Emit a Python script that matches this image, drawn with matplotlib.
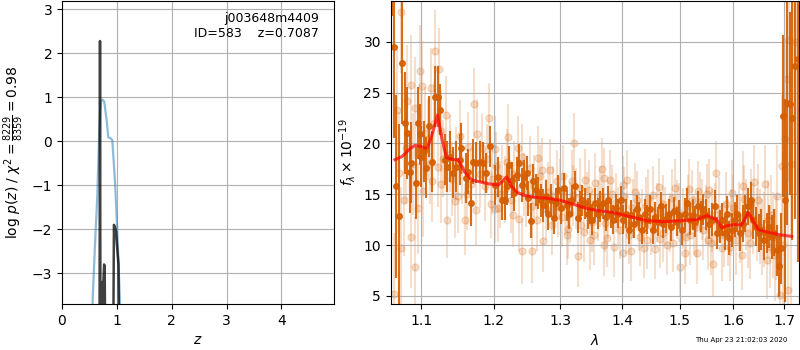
import matplotlib
matplotlib.use("Agg")
import matplotlib.pyplot as plt
from matplotlib.ticker import NullLocator, NullFormatter

# -------------------------------
# p(z) panel
# -------------------------------
z_chi2 = [0.54, 0.559, 0.60, 0.643, 0.68, 0.705, 0.735, 0.771, 0.814, 0.844,
          0.886, 0.917, 0.965, 1.008, 1.056, 1.07]
logp_chi2 = [-4.5, -3.6, -2.4, -1.26, 0.26, 0.9, 0.95, 0.9, 0.48, 0.09,
             0.07, 0.03, -0.88, -2.02, -3.6, -4.5]

z_pz = [0.680, 0.693, 0.703, 0.712, 0.722, 0.732, 0.742, 0.752, 0.768, 0.778,
        0.790, 0.800, 0.920, 0.947, 0.965, 0.984, 1.005, 1.030, 1.060]
logp_pz = [-8, 2.28, -6, -3.25, -5, -3.2, -5, -3.3, -2.8, -2.85,
           -5, -8, -8, -1.9, -1.95, -2.05, -2.4, -2.8, -8]

label_root = "j003648m4409"
label_id = "ID=583    z=0.7087"
timestamp = "Thu Apr 23 21:02:03 2020"

# -------------------------------
# spectrum panel: binned (dark) points
# -------------------------------
wave_bin = [1.0625, 1.0650, 1.0679, 1.0714, 1.0752, 1.0787, 1.0821, 1.0852, 1.0873, 1.0938,
            1.0960, 1.0983, 1.1004, 1.1040, 1.1070, 1.1106, 1.1146, 1.1182, 1.1227, 1.1250,
            1.1317, 1.1353, 1.1385, 1.1430, 1.1476, 1.1522, 1.1545, 1.1614, 1.1638, 1.1675,
            1.1708, 1.1754, 1.1802, 1.1849, 1.1896, 1.1945, 1.2017,
            1.2068, 1.2117, 1.2166, 1.2191, 1.2224, 1.2264, 1.2302, 1.2338, 1.2372, 1.2412,
            1.2451, 1.2487, 1.2511, 1.2551, 1.2586, 1.2622, 1.2662, 1.2703, 1.2738, 1.2775,
            1.2815, 1.2856, 1.2898, 1.2929, 1.2969, 1.3011, 1.3063, 1.3100, 1.3137, 1.3180,
            1.3232, 1.3275, 1.3311, 1.3348, 1.3392, 1.3435, 1.3472, 1.3509, 1.3553, 1.3597,
            1.3640,
            1.3688, 1.3732, 1.3770, 1.3810, 1.3854, 1.3898, 1.3936, 1.3976, 1.4020, 1.4066,
            1.4111, 1.4155, 1.4201, 1.4247, 1.4292, 1.4338, 1.4385, 1.4430, 1.4476, 1.4523,
            1.4568, 1.4616, 1.4663, 1.4709, 1.4757, 1.4805, 1.4851, 1.4899, 1.4947, 1.4994,
            1.5043, 1.5092, 1.5139, 1.5188, 1.5237, 1.5285, 1.5334, 1.5384, 1.5432, 1.5482,
            1.5532,
            1.5593, 1.5644, 1.5693, 1.5744, 1.5782, 1.5833, 1.5871, 1.5921, 1.5972, 1.6024,
            1.6074, 1.6126, 1.6179, 1.6229, 1.6282, 1.6335, 1.6386, 1.6439, 1.6492, 1.6544,
            1.6597, 1.6651, 1.6703, 1.6751, 1.6797, 1.6852, 1.6898, 1.6939, 1.6986, 1.7027,
            1.7068, 1.7123, 1.7170, 1.7226, 1.7282]
flux_bin = [42.0, 29.5, 15.8, 12.9, 27.9, 22.0, 21.0, 17.2, 18.1, 16.1,
            22.0, 20.9, 18.7, 19.2, 17.6, 21.7, 18.2, 24.6, 24.6, 23.3,
            18.4, 17.7, 18.7, 17.1, 17.7, 18.4, 19.5, 16.6, 17.2, 14.1,
            18.2, 18.1, 18.2, 18.1, 17.1, 19.7, 15.9,
            16.7, 14.4, 14.4, 15.8, 17.9, 16.4, 15.1, 16.9, 18.1, 15.9,
            16.7, 17.1, 14.6, 12.4, 16.3, 15.4, 15.1, 14.4, 13.9, 14.8,
            13.1, 14.4, 12.7, 14.1, 15.4, 13.6, 15.6, 13.9, 13.1, 14.4,
            15.8, 12.7, 13.8, 14.4, 14.1, 13.1, 13.6, 12.5, 14.1, 13.1,
            13.8,
            14.1, 12.8, 14.4, 13.1, 12.5, 13.6, 13.1, 14.4, 12.5, 13.1,
            11.5, 13.0, 12.1, 13.5, 12.8, 11.5, 13.1, 12.5, 13.5, 11.5,
            12.8, 12.3, 13.8, 12.1, 12.6, 13.1, 11.8, 13.3, 12.3, 13.0,
            11.5, 13.1, 14.1, 12.5, 13.0, 12.3, 13.8, 12.8, 13.5, 13.0,
            12.1,
            12.5, 13.8, 11.2, 11.8, 12.5, 11.2, 13.1, 10.7, 11.5, 12.5,
            13.1, 11.2, 12.1, 13.1, 13.8, 14.4, 12.5, 11.8, 11.2, 11.5,
            10.5, 11.2, 11.8, 10.8, 11.2, 9.5, 7.9, 9.7, 22.7, 14.4,
            24.0, 23.9, 22.5, 27.6, 28.3]
err_bin = [9.5, 9.0, 9.0, 9.0, 6.0, 5.0, 4.5, 4.0, 4.0, 3.5,
           3.5, 3.0, 3.0, 3.0, 3.0, 3.0, 3.0, 3.0, 3.0, 2.5,
           2.5, 2.5, 2.5, 2.5, 2.5, 2.5, 2.5, 2.5, 2.2, 2.2,
           2.2, 2.0, 2.0, 2.0, 2.0, 2.0, 2.0,
           2.0, 1.9, 1.9, 1.9, 1.8, 1.8, 1.8, 1.8, 1.8, 1.7,
           1.7, 1.7, 1.7, 1.7, 1.7, 1.6, 1.6, 1.6, 1.6, 1.6,
           1.6, 1.6, 1.6, 1.5, 1.5, 1.5, 1.5, 1.5, 1.5, 1.5,
           1.5, 1.5, 1.5, 1.5, 1.5, 1.5, 1.5, 1.5, 1.5, 1.5,
           1.5,
           1.5, 1.4, 1.4, 1.4, 1.4, 1.4, 1.4, 1.4, 1.4, 1.4,
           1.4, 1.4, 1.4, 1.4, 1.4, 1.4, 1.4, 1.4, 1.4, 1.4,
           1.4, 1.4, 1.4, 1.4, 1.4, 1.4, 1.4, 1.4, 1.4, 1.4,
           1.5, 1.5, 1.5, 1.5, 1.5, 1.5, 1.5, 1.5, 1.5, 1.5,
           1.5,
           1.6, 1.6, 1.6, 1.6, 1.6, 1.7, 1.7, 1.7, 1.7, 1.7,
           1.8, 1.8, 1.8, 1.8, 1.8, 1.8, 1.9, 1.9, 1.9, 2.0,
           2.0, 2.0, 2.1, 2.2, 2.3, 2.5, 3.0, 3.5, 8.0, 10.0,
           12.0, 9.0, 12.0, 15.0, 20.0]

# -------------------------------
# spectrum panel: individual beam (light) points
# -------------------------------
wave_beam = [1.0650, 1.0692, 1.0709, 1.0744, 1.0744, 1.0778, 1.0800, 1.0821, 1.0865, 1.0873,
             1.0890, 1.0917, 1.0925, 1.0960, 1.0991, 1.1018, 1.1026, 1.1050, 1.1093, 1.1128,
             1.1150, 1.1170, 1.1191, 1.1227, 1.1236, 1.1271, 1.1290, 1.1330, 1.1353, 1.1385,
             1.1410, 1.1453, 1.1499, 1.1522, 1.1560, 1.1600, 1.1638, 1.1680, 1.1722, 1.1754,
             1.1769, 1.1800, 1.1873, 1.1900, 1.1935, 1.1980, 1.2017,
             1.2021, 1.2068, 1.2117, 1.2160, 1.2214, 1.2254, 1.2300, 1.2376, 1.2412, 1.2421,
             1.2480, 1.2561, 1.2571, 1.2600, 1.2662, 1.2713, 1.2738, 1.2780, 1.2840, 1.2890,
             1.2944, 1.2990, 1.3022, 1.3070, 1.3125, 1.3150, 1.3180, 1.3220, 1.3250, 1.3284,
             1.3330, 1.3392, 1.3430, 1.3472, 1.3510, 1.3553, 1.3600, 1.3662, 1.3694,
             1.3699, 1.3744, 1.3760, 1.3799, 1.3865, 1.3900, 1.3965, 1.4010, 1.4020, 1.4060,
             1.4088, 1.4145, 1.4180, 1.4247, 1.4280, 1.4303, 1.4378, 1.4400, 1.4447, 1.4500,
             1.4563, 1.4600, 1.4639, 1.4700, 1.4709, 1.4769, 1.4820, 1.4917, 1.4960, 1.5007,
             1.5060, 1.5098, 1.5150, 1.5176, 1.5188, 1.5260, 1.5322, 1.5340, 1.5380, 1.5432,
             1.5480, 1.5525,
             1.5544, 1.5600, 1.5619, 1.5670, 1.5720, 1.5777, 1.5820, 1.5900, 1.5950, 1.5966,
             1.6050, 1.6100, 1.6161, 1.6179, 1.6250, 1.6321, 1.6350, 1.6406, 1.6450, 1.6518,
             1.6560, 1.6618, 1.6651, 1.6680, 1.6717, 1.6780, 1.6820, 1.6864, 1.6919, 1.6953,
             1.6990, 1.7020, 1.7068, 1.7087, 1.7108, 1.7150, 1.7200, 1.7250,
             1.1120, 1.1260, 1.1470, 1.1620, 1.1830, 1.1960,
             1.2040, 1.2090, 1.2190, 1.2280, 1.2350, 1.2440, 1.2530, 1.2640, 1.2690, 1.2810,
             1.2870, 1.2960, 1.3040, 1.3100, 1.3200, 1.3310, 1.3370, 1.3450, 1.3530, 1.3630,
             1.3720, 1.3830, 1.3930, 1.4040, 1.4120, 1.4220, 1.4330, 1.4420, 1.4530, 1.4650,
             1.4740, 1.4860, 1.4890, 1.4990, 1.5120, 1.5220, 1.5300, 1.5410, 1.5500, 1.5580,
             1.5650, 1.5850, 1.5930, 1.6000, 1.6130, 1.6200, 1.6290, 1.6380, 1.6480, 1.6600,
             1.6740, 1.6840]
flux_beam = [5.2, 23.3, 17.1, 32.9, 9.7, 14.4, 19.5, 24.2, 25.7, 10.8,
             18.0, 23.5, 7.8, 13.6, 27.1, 25.6, 15.3, 21.0, 20.4, 25.4,
             16.3, 22.0, 29.1, 17.7, 27.3, 21.2, 18.5, 22.8, 12.5, 19.0,
             16.5, 14.3, 14.8, 20.7, 17.5, 12.5, 19.6, 16.0, 23.9, 13.4,
             20.9, 17.0, 15.8, 18.5, 22.5, 16.5, 13.5,
             19.4, 13.6, 16.5, 15.5, 20.6, 14.4, 17.0, 12.6, 18.7, 9.4,
             15.0, 13.8, 9.4, 15.8, 18.6, 17.4, 10.4, 13.5, 17.4, 14.8,
             16.3, 15.5, 12.8, 14.0, 11.6, 13.2, 16.3, 20.0, 14.6, 8.9,
             12.0, 16.4, 14.2, 10.5, 12.3, 16.1, 13.4, 17.5, 10.0,
             16.6, 10.7, 13.5, 16.4, 9.8, 14.2, 11.5, 15.9, 9.2, 12.0,
             16.4, 9.4, 13.6, 14.4, 12.3, 10.8, 9.7, 13.8, 14.6, 11.9,
             9.6, 13.2, 15.7, 14.0, 11.2, 10.0, 12.2, 15.6, 13.5, 7.8,
             12.6, 9.2, 13.9, 15.5, 11.0, 12.0, 9.2, 15.3, 14.2, 11.5,
             12.9, 10.5,
             15.4, 12.4, 8.1, 17.1, 13.5, 9.7, 11.0, 11.2, 12.2, 15.1,
             10.5, 12.8, 9.0, 15.8, 13.0, 10.2, 14.0, 16.2, 12.0, 11.8,
             10.8, 16.0, 8.5, 12.5, 9.8, 11.0, 9.0, 14.8, 5.1, 17.8,
             10.0, 20.4, 26.3, 5.6, 30.2, 18.0, 35.0, 30.0,
             18.0, 16.0, 18.0, 15.0, 19.5, 14.0,
             17.8, 15.0, 18.2, 13.0, 19.5, 16.0, 17.6, 12.5, 16.8, 15.2,
             12.0, 13.8, 16.8, 11.0, 14.9, 15.6, 11.3, 15.4, 11.0, 14.8,
             12.2, 15.0, 12.8, 14.8, 11.0, 15.2, 12.6, 10.5, 14.9, 10.6,
             12.8, 14.6, 10.2, 13.2, 10.8, 14.4, 11.8, 13.5, 15.0, 10.2,
             13.0, 14.0, 9.8, 13.6, 11.6, 14.5, 11.2, 12.6, 14.4, 11.5,
             13.0, 10.8]
err_beam = [6.0, 6.0, 6.0, 6.0, 6.0, 5.5, 5.5, 5.5, 5.0, 5.0,
            5.0, 5.0, 5.0, 4.5, 4.5, 4.5, 4.5, 4.5, 4.0, 4.0,
            4.0, 4.0, 4.0, 4.0, 4.0, 4.0, 3.8, 3.8, 3.8, 3.8,
            3.6, 3.6, 3.6, 3.6, 3.5, 3.5, 3.5, 3.5, 3.5, 3.5,
            3.5, 3.4, 3.4, 3.4, 3.4, 3.4, 3.3,
            3.3, 3.3, 3.3, 3.3, 3.3, 3.2, 3.2, 3.2, 3.2, 3.2,
            3.2, 3.1, 3.1, 3.1, 3.1, 3.1, 3.1, 3.0, 3.0, 3.0,
            3.0, 3.0, 3.0, 3.0, 3.0, 3.0, 3.0, 3.0, 3.0, 3.0,
            3.0, 3.0, 3.0, 3.0, 3.0, 3.0, 3.0, 3.0, 3.0,
            2.9, 2.9, 2.9, 2.9, 2.9, 2.9, 2.9, 2.9, 2.9, 2.9,
            2.9, 2.9, 2.9, 2.9, 2.9, 2.9, 2.9, 2.9, 2.9, 2.9,
            2.9, 2.9, 2.9, 2.9, 2.9, 2.9, 2.9, 2.9, 2.9, 2.9,
            3.0, 3.0, 3.0, 3.0, 3.0, 3.0, 3.0, 3.0, 3.0, 3.0,
            3.0, 3.0,
            3.1, 3.1, 3.1, 3.1, 3.2, 3.2, 3.2, 3.3, 3.3, 3.3,
            3.4, 3.4, 3.4, 3.4, 3.5, 3.5, 3.5, 3.6, 3.6, 3.7,
            3.7, 3.8, 3.8, 3.9, 4.0, 4.2, 4.5, 5.0, 6.0, 7.0,
            9.0, 10.0, 12.0, 12.0, 14.0, 15.0, 15.0, 15.0,
            4.0, 3.8, 3.6, 3.5, 3.4, 3.3,
            3.3, 3.3, 3.2, 3.2, 3.2, 3.1, 3.1, 3.1, 3.0, 3.0,
            3.0, 3.0, 3.0, 3.0, 3.0, 3.0, 3.0, 3.0, 3.0, 3.0,
            2.9, 2.9, 2.9, 2.9, 2.9, 2.9, 2.9, 2.9, 2.9, 2.9,
            2.9, 2.9, 2.9, 2.9, 3.0, 3.0, 3.0, 3.0, 3.0, 3.1,
            3.1, 3.2, 3.3, 3.3, 3.4, 3.4, 3.5, 3.5, 3.6, 3.7,
            3.9, 4.2]

# -------------------------------
# best-fit model
# -------------------------------
wave_model = [1.066, 1.075, 1.086, 1.092, 1.099, 1.108, 1.114, 1.122, 1.128, 1.134,
              1.143, 1.150, 1.160, 1.169, 1.181, 1.195, 1.207, 1.213, 1.219, 1.226,
              1.234, 1.244, 1.259, 1.279, 1.300, 1.321, 1.342, 1.358, 1.385, 1.413,
              1.442, 1.471, 1.501, 1.531, 1.550, 1.568, 1.578, 1.587, 1.600, 1.616,
              1.629, 1.639, 1.649, 1.665, 1.692, 1.716]
flux_model = [18.4, 18.7, 19.5, 19.8, 19.7, 19.5, 20.7, 22.8, 20.4, 18.6,
              18.4, 18.4, 17.1, 16.4, 16.2, 16.0, 15.9, 16.3, 16.7, 15.8,
              15.2, 14.9, 14.7, 14.6, 14.4, 14.0, 13.6, 13.4, 13.2, 12.8,
              12.4, 12.3, 12.4, 12.5, 12.9, 12.5, 11.7, 11.9, 12.0, 12.0,
              13.2, 12.3, 11.5, 11.3, 11.0, 10.85]

wave_ticks = [1.1, 1.2, 1.3, 1.4, 1.5, 1.6, 1.7]

g141_color = (0.835, 0.369, 0.0)

fig = plt.figure(figsize=(8, 3.5), dpi=100)

# left: p(z)
ax = fig.add_axes([0.0775, 0.1314, 0.34, 0.8657])
ax.plot(z_chi2, logp_chi2, color="tab:blue", alpha=0.5, lw=1.6)
ax.plot(z_pz, logp_pz, color="k", alpha=0.75, lw=1.8)
ax.set_xlim(0, 4.96)
ax.set_ylim(-3.7, 3.19)
ax.set_xticks([0, 1, 2, 3, 4])
ax.set_yticks([-3, -2, -1, 0, 1, 2, 3])
ax.grid()
ax.set_xlabel(r"$z$")
ax.set_ylabel(r"log $p(z)$ / $\chi^2=\frac{8229}{8359}=0.98$")
ax.text(0.945, 0.965, label_root + "\n" + label_id, ha="right", va="top",
        transform=ax.transAxes, fontsize=9)

# right: spectrum
ax2 = fig.add_axes([0.4884, 0.1314, 0.5104, 0.8657])
ax2.errorbar(wave_beam, flux_beam, err_beam, marker="o", ms=5, linestyle="none",
             color=g141_color, alpha=0.2, elinewidth=1.5, capsize=0, zorder=1)
ax2.errorbar(wave_bin, flux_bin, err_bin, marker="o", ms=4, linestyle="none",
             color=g141_color, alpha=0.9, elinewidth=1.5, capsize=0, zorder=2)
ax2.plot(wave_model, flux_model, color="r", alpha=0.7, lw=2.2, zorder=3)
ax2.set_xscale("log")
ax2.set_xlim(1.0607, 1.731)
ax2.set_ylim(4.2, 34.0)
ax2.set_xticks(wave_ticks)
ax2.set_xticklabels(["{0:.1f}".format(w) for w in wave_ticks])
ax2.xaxis.set_minor_locator(NullLocator())
ax2.xaxis.set_minor_formatter(NullFormatter())
ax2.set_yticks([5, 10, 15, 20, 25, 30])
ax2.grid()
ax2.set_xlabel(r"$\lambda$")
ax2.set_ylabel(r"$f_\lambda\times10^{-19}$")

fig.text(0.984, 0.02, timestamp, ha="right", va="bottom", fontsize=5)

fig.savefig("out.png", dpi=100)
